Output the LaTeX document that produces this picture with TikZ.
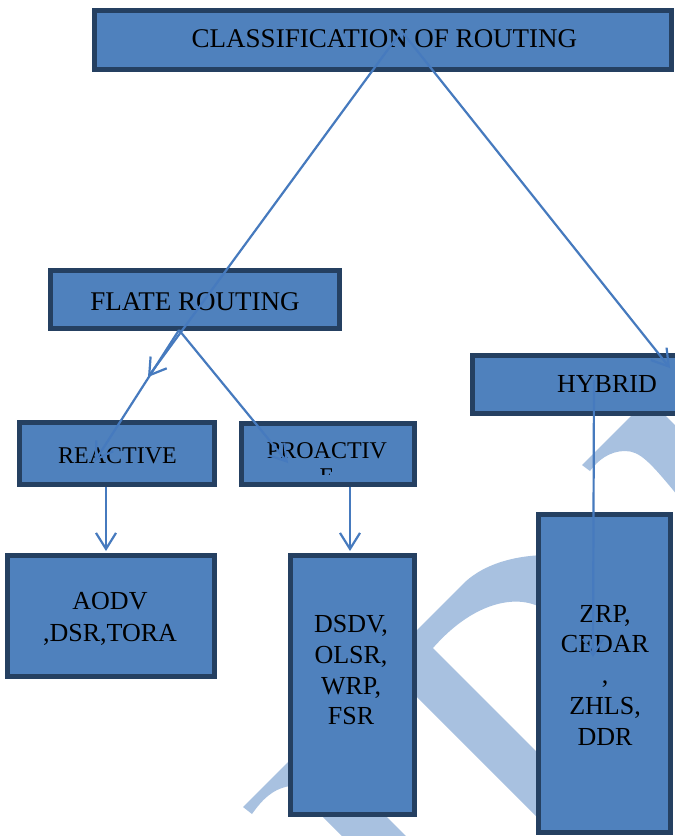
\documentclass[tikz,border=0pt]{standalone}
\usepackage{fontspec}
\setmainfont{Liberation Serif}
\usetikzlibrary{arrows.meta}
\definecolor{boxfill}{RGB}{79,129,189}
\definecolor{boxedge}{RGB}{37,64,97}
\definecolor{linkblue}{RGB}{70,122,190}
\definecolor{wmark}{RGB}{168,193,224}
\tikzset{
  box/.style={draw=boxedge, fill=boxfill, line width=5pt, inner sep=0pt},
  lbl/.style={text=black, inner sep=0pt, align=center, font=\fontsize{26}{31}\selectfont},
  big/.style={font=\fontsize{27}{31}\selectfont},
  small/.style={font=\fontsize{24}{26}\selectfont},
  link/.style={draw=linkblue, line width=2.2pt, -{Straight Barb[length=16pt,width=20pt]}}
}
\begin{document}
\begin{tikzpicture}[x=1pt,y=-1pt]
\useasboundingbox (0,0) rectangle (675,836);
\fill[white] (0,0) rectangle (675,836);

% light swoosh shapes in the background
\fill[wmark] (243,807) -- (300,750) -- (380,750) -- (387,817) -- (410,840)
  -- (346,840) -- (323,817) -- (290,786) .. controls (272,789) and (262,800) .. (252,814) -- cycle;
\fill[wmark] (410,637) -- (463,584) .. controls (480,567) and (508,556) .. (545,555)
  -- (545,610) .. controls (520,593) and (475,600) .. (433,648)
  -- (545,760) -- (545,825) -- (410,690) -- cycle;
\fill[wmark] (582,465) -- (640,407) -- (657,407) -- (685,435) -- (685,500) -- (678,496)
  .. controls (650,462) and (640,451) .. (625,451)
  .. controls (610,451) and (598,460) .. (590,471) -- cycle;

% boxes
\node[box, minimum width=577pt, minimum height=59pt] (top) at (383,40) {};
\node[box, minimum width=289pt, minimum height=58pt] (flat) at (195,299.5) {};
\node[box, minimum width=215pt, minimum height=58pt] (hyb) at (580,384.5) {};
\node[box, minimum width=195pt, minimum height=62pt] (reac) at (117,453.5) {};
\node[box, minimum width=173pt, minimum height=61pt] (proa) at (328,454) {};
\node[box, minimum width=207pt, minimum height=121pt] (aodv) at (111,616) {};
\node[box, minimum width=124pt, minimum height=259pt] (dsdv) at (352.5,685) {};
\node[box, minimum width=132pt, minimum height=318pt] (zrp) at (604.5,673.5) {};

% labels
\node[lbl, big, anchor=base] (tTop) at (384.5,47) {CLASSIFICATION OF ROUTING};
\node[lbl, big, anchor=base] (tFlat) at (195,310) {FLATE ROUTING};
\node[lbl, small, anchor=base] (tReac) at (117.5,463) {REACTIVE};
\node[lbl, small, anchor=base] (tProa) at (327,458) {PROACTIV};
\begin{scope}
  \clip (239,421) rectangle (417,474);
  \node[lbl, small, anchor=base] (tProaE) at (327,484) {E};
\end{scope}
\node[lbl, anchor=base] (tHyb) at (607,392) {HYBRID};
\node[lbl, anchor=north, font=\fontsize{26}{32}\selectfont] (tAodv) at (110,592.4) {AODV\\,DSR,TORA};
\node[lbl, anchor=north, font=\fontsize{26}{30.7}\selectfont] (tDsdv) at (351,615.4) {DSDV,\\OLSR,\\WRP,\\FSR};
\node[lbl, anchor=north, font=\fontsize{26}{30.8}\selectfont] (tZrp) at (605,604.8) {ZRP,\\CEDAR\\,\\ZHLS,\\DDR};

% connector end points
\coordinate (topA) at (400,33);
\coordinate (topB) at (403,33);
\coordinate (flatEnd) at (148,377);
\coordinate (hybEnd) at (670,368);
\coordinate (flatOut) at (179,330);
\coordinate (reacIn) at (95,461);
\coordinate (proaIn) at (288,463);
\coordinate (reacOut) at (106,487);
\coordinate (aodvIn) at (106,551);
\coordinate (proaOut) at (350,487);
\coordinate (dsdvIn) at (350,551);
\coordinate (hybOut) at (594,380);
\coordinate (zrpIn) at (593,657);

% connectors
\draw[link] (topA) -- (flatEnd);
\draw[link] (topB) -- (hybEnd);
\draw[link] (flatOut) -- (reacIn);
\draw[link] (flatOut) -- (proaIn);
\draw[link] (reacOut) -- (aodvIn);
\draw[link] (proaOut) -- (dsdvIn);
\draw[link] (hybOut) -- (zrpIn);
\end{tikzpicture}
\end{document}
